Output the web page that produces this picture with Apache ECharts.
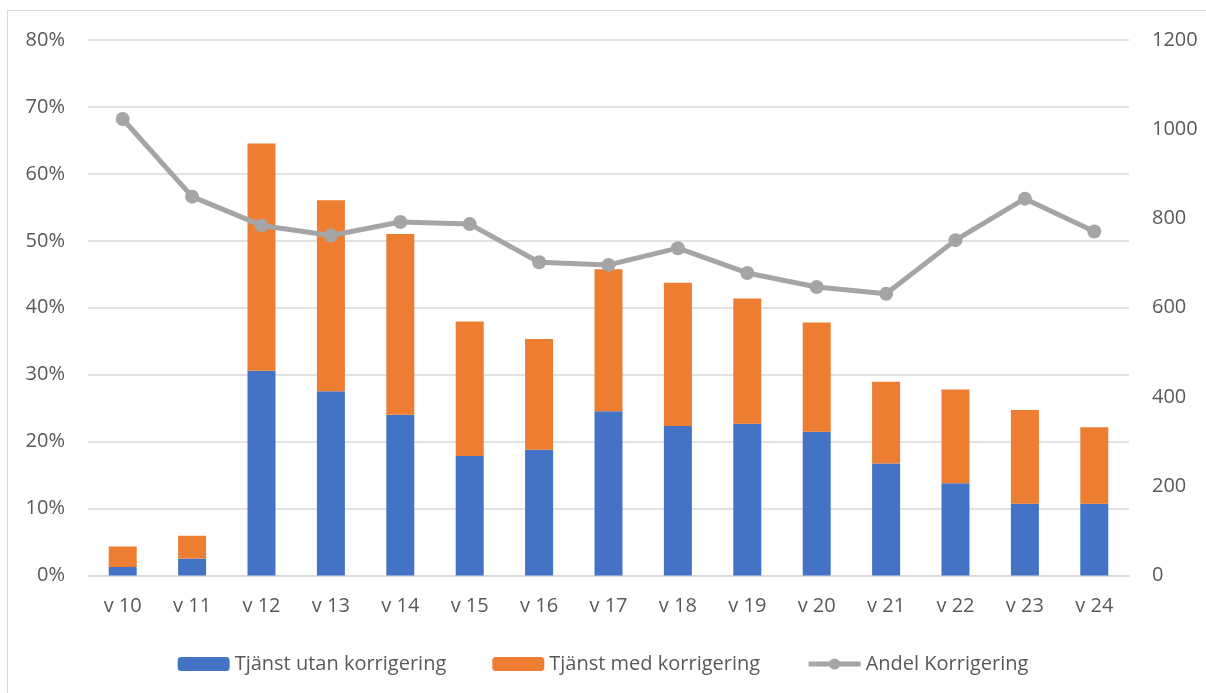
<!DOCTYPE html>
<html>
<head>
<meta charset="utf-8">
<script src="https://cdn.jsdelivr.net/npm/echarts@6/dist/echarts.min.js"></script>
<style>
  html, body { margin: 0; padding: 0; background: #fff; overflow: hidden; }
  #frame { position: absolute; left: 7px; top: 10px; width: 1210px; height: 700px; border: 1px solid #d9d9d9; box-sizing: border-box; }
  #chart { position: absolute; left: 0; top: 0; width: 1206px; height: 693px; }
</style>
</head>
<body>
<div id="frame"></div>
<div id="chart"></div>
<script>
// Weeks shown on the category axis
const weeks = ['v 10', 'v 11', 'v 12', 'v 13', 'v 14', 'v 15', 'v 16', 'v 17', 'v 18', 'v 19', 'v 20', 'v 21', 'v 22', 'v 23', 'v 24'];
// Number of services without correction (right axis)
const utanKorrigering = [19, 38, 459, 413, 360, 268, 282, 368, 335, 340, 322, 251, 207, 161, 161];
// Number of services with correction (right axis)
const medKorrigering = [46, 51, 509, 428, 405, 301, 248, 318, 321, 281, 245, 183, 210, 210, 171];
// Share corrected, in percent (left axis)
const andelKorrigering = [68.2, 56.6, 52.3, 50.8, 52.8, 52.5, 46.8, 46.4, 48.9, 45.2, 43.1, 42.1, 50.1, 56.3, 51.4];

const FONT = '"Open Sans", sans-serif';
const FS = 20;
const TEXT = '#595959';
const GRID = '#d9d9d9';

const chart = echarts.init(document.getElementById('chart'), null, { renderer: 'canvas' });
chart.setOption({
  animation: false,
  textStyle: { fontFamily: FONT, color: TEXT },
  grid: { left: 88, right: 77, top: 40, bottom: 117.5, containLabel: false },
  legend: {
    top: 649,
    left: 'center',
    itemWidth: 52,
    itemHeight: 14,
    itemGap: 46,
    lineStyle: { width: 5 },
    textStyle: { fontFamily: FONT, fontSize: FS, color: TEXT },
    data: ['Tjänst utan korrigering', 'Tjänst med korrigering', 'Andel Korrigering']
  },
  xAxis: {
    type: 'category',
    data: weeks,
    axisLine: { lineStyle: { color: GRID, width: 1.5 } },
    axisTick: { show: false },
    axisLabel: { fontFamily: FONT, fontSize: FS, color: TEXT, margin: 21 }
  },
  yAxis: [
    {
      type: 'value',
      min: 0, max: 80, interval: 10,
      axisLine: { show: false },
      axisTick: { show: false },
      axisLabel: { formatter: '{value}%', fontFamily: FONT, fontSize: FS, color: TEXT, margin: 23 },
      splitLine: { lineStyle: { color: GRID, width: 1.5 } }
    },
    {
      type: 'value',
      min: 0, max: 1200, interval: 200,
      axisLine: { show: false },
      axisTick: { show: false },
      axisLabel: { formatter: (v) => String(v), fontFamily: FONT, fontSize: FS, color: TEXT, margin: 23 },
      splitLine: { show: false }
    }
  ],
  series: [
    {
      name: 'Tjänst utan korrigering',
      type: 'bar',
      stack: 'tjanst',
      yAxisIndex: 1,
      barWidth: 28,
      itemStyle: { color: '#4472C4' },
      data: utanKorrigering
    },
    {
      name: 'Tjänst med korrigering',
      type: 'bar',
      stack: 'tjanst',
      yAxisIndex: 1,
      barWidth: 28,
      itemStyle: { color: '#ED7D31' },
      data: medKorrigering
    },
    {
      name: 'Andel Korrigering',
      type: 'line',
      yAxisIndex: 0,
      symbol: 'circle',
      symbolSize: 14,
      lineStyle: { color: '#A5A5A5', width: 5 },
      itemStyle: { color: '#A5A5A5' },
      z: 5,
      data: andelKorrigering
    }
  ]
});
</script>
</body>
</html>
